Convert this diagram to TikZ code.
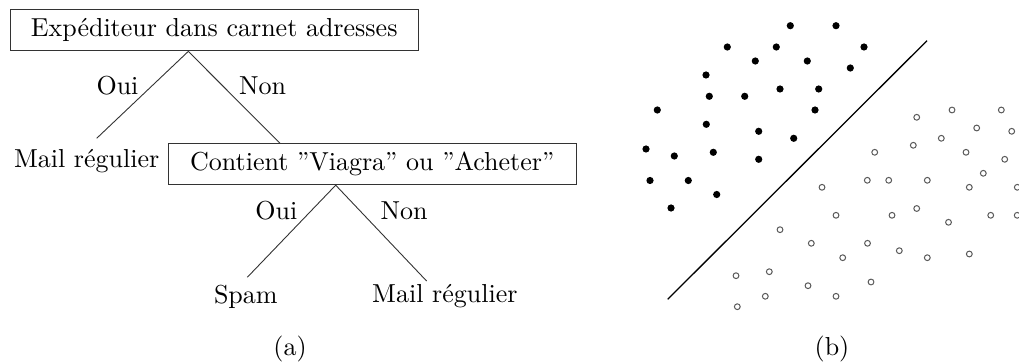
\documentclass[tikz,border=0pt]{standalone}
\usepackage{graphicx}
\newcommand\sctext[1]{\scalebox{2.6}{#1}}
\tikzset{
  lbl/.style={inner sep=0pt, anchor=base},
  box/.style={draw=black!80, line width=1pt, inner sep=0pt, minimum width=407.7pt, minimum height=41pt},
  branch/.style={draw=black!80, line width=0.9pt},
  sep/.style={draw=black, line width=1.3pt},
  fulldot/.style={fill=black},
  opendot/.style={draw=black!65, line width=1pt, fill=white}
}
\begin{document}
\begin{tikzpicture}[x=1pt,y=-1pt]
\useasboundingbox (0,0) rectangle (1019,363);
% decision tree
\node[box] (root) at (214.2,30.4) {\sctext{Expéditeur dans carnet adresses}};
\node[box] (test) at (372.2,164.2) {\sctext{Contient ”Viagra” ou ”Acheter”}};
\node[lbl] (mail1) at (86.7,167.7) {\sctext{Mail régulier}};
\node[lbl] (spam) at (245.8,303.3) {\sctext{Spam}};
\node[lbl] (mail2) at (444.9,302) {\sctext{Mail régulier}};
\node[lbl] (oui1) at (117.5,94.3) {\sctext{Oui}};
\node[lbl] (non1) at (262.5,94.3) {\sctext{Non}};
\node[lbl] (oui2) at (276.3,220) {\sctext{Oui}};
\node[lbl] (non2) at (404.2,220) {\sctext{Non}};
\node[lbl] (capa) at (290,355) {\sctext{(a)}};
\node[lbl] (capb) at (832,355.5) {\sctext{(b)}};
\coordinate (r1) at ([xshift=-25.9pt]root.south);
\coordinate (r2) at ([xshift=-36.5pt]test.south);
\coordinate (m1) at ([xshift=10pt,yshift=29.4pt]mail1.base);
\coordinate (t1) at ([xshift=-92.2pt]test.north);
\coordinate (s1) at ([xshift=1.5pt,yshift=26pt]spam.base);
\coordinate (m2) at ([xshift=-18.3pt,yshift=21pt]mail2.base);
\draw[branch] (r1) -- (m1);
\draw[branch] (r1) -- (t1);
\draw[branch] (r2) -- (s1);
\draw[branch] (r2) -- (m2);
% separable point clouds
\coordinate (sa) at (667.7,299.3);
\coordinate (sb) at (927,40.7);
\draw[sep] (sa) -- (sb);
\foreach \x/\y in {790.3/25.7,836/25.7,727.3/47,776.3/47,864/47,755.3/61,807.3/61,850.3/68,706/75,780/89,818.7/89,709.3/96.3,744.7/96.3,657.3/110,815/110,706.3/124.3,758.7/131.3,793.7/138.3,646/149,674.3/156,713.3/152.3,758.7/159.3,650/180.5,688.3/180.5,716.7/194.5,671/208}
  \fill[fulldot] (\x,\y) circle[radius=3.6pt];
\foreach \x/\y in {916.7/117.3,952/110,1001.3/110,976.7/128,1011.7/131.3,941.3/138.3,913.3/145.3,874.7/152.3,966/152.3,1004.7/159.3,983.3/173.3,867.3/180.3,888.7/180.3,927.3/180.3,822/187.3,969.3/187.3,1017.3/187.3,836/215.3,892/215.3,916.7/208.5,948.5/222.3,990.7/215.3,1017.2/215.3,780/229.7,811.3/243.3,867.5/243.3,842.7/257.7,899.3/250.7,927.3/257.7,969.3/254,736/275.7,769.3/271.7,808/285.7,871/282,765.3/296.3,836/296.3,737.3/306.7}
  \draw[opendot] (\x,\y) circle[radius=2.9pt];
\end{tikzpicture}
\end{document}
